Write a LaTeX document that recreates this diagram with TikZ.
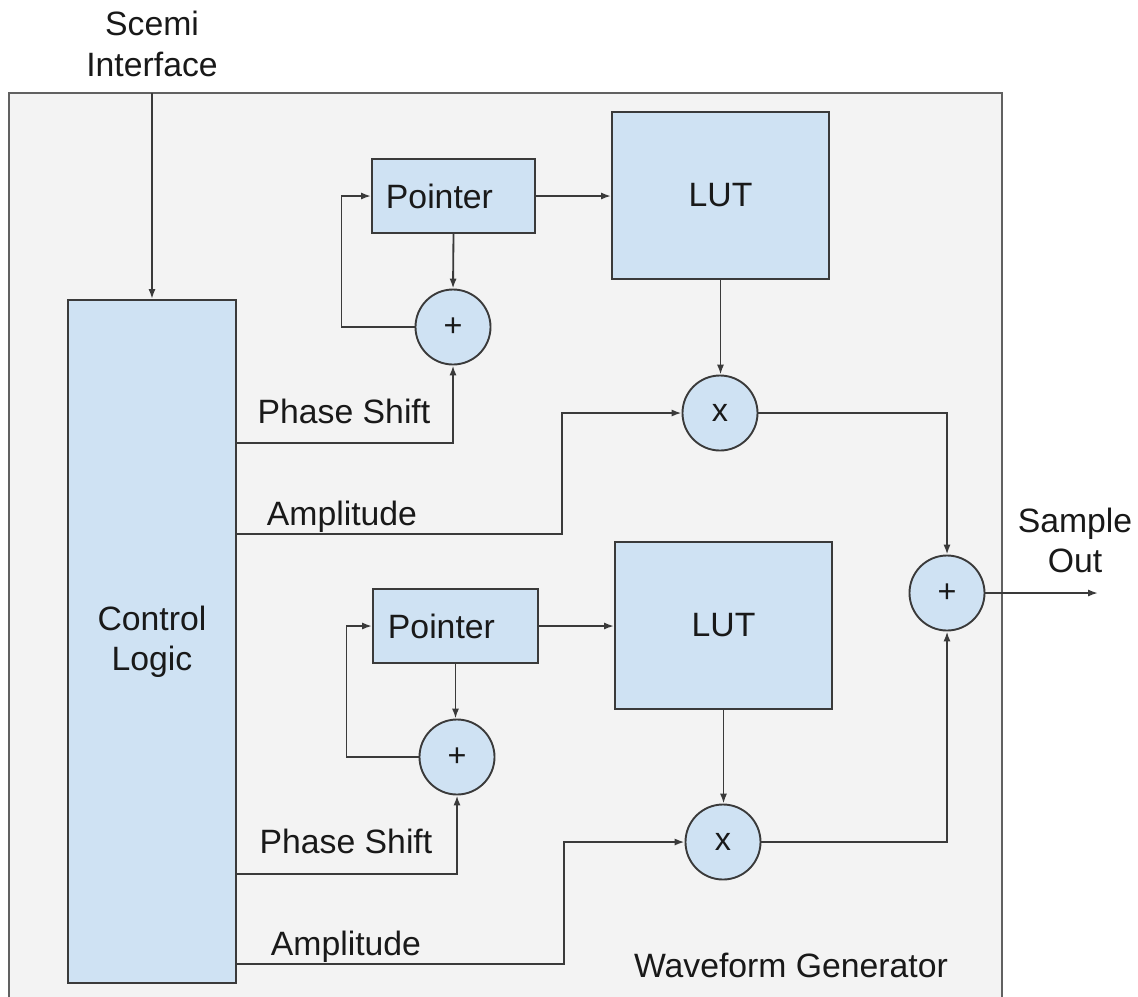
\documentclass[tikz,border=0pt]{standalone}
\usepackage{fontspec}
\setmainfont{Liberation Sans}
\usetikzlibrary{arrows.meta}
\definecolor{boxblue}{HTML}{CFE2F3}
\definecolor{outerbg}{HTML}{F3F3F3}
\definecolor{ink}{HTML}{3A3A3A}
\tikzset{
  blk/.style={draw=ink, fill=boxblue, line width=1.35pt, inner sep=0pt, font=\fontsize{24}{28.5}\selectfont, text=black!90},
  op/.style={circle, draw=ink, fill=boxblue, line width=1.35pt, inner sep=0pt, minimum size=75*0.7113pt, font=\fontsize{23}{28}\selectfont, text=black!90},
  arr/.style={draw=ink, line width=1.3pt, -{Latex[length=7pt,width=5pt]}},
  lbl/.style={font=\fontsize{24}{28.5}\selectfont, text=black!90, inner sep=0pt, anchor=base, align=center}
}
\begin{document}
\begin{tikzpicture}[x=0.025cm, y=-0.025cm]
\useasboundingbox (0,0) rectangle (1138,996);
\fill[white] (0,0) rectangle (1138,996);
\begin{scope}
\clip (0,0) rectangle (1138,996);
\draw[draw=ink!80, fill=outerbg, line width=1.5pt] (9,93) rectangle (1002,1010);
\end{scope}

% nodes
\node[blk, minimum width=168*0.7113pt, minimum height=683*0.7113pt, align=center] (ctrl) at (152,641.5) {Control\\Logic};
\node[blk, minimum width=163*0.7113pt, minimum height=74*0.7113pt] (ptr1) at (453.5,196) {\hspace*{-20pt}Pointer};
\node[blk, minimum width=217*0.7113pt, minimum height=167*0.7113pt] (lut1) at (720.5,195.5) {LUT};
\node[op] (add1) at (453,327) {+};
\node[op] (mul1) at (720,413) {x};
\node[blk, minimum width=165*0.7113pt, minimum height=74*0.7113pt] (ptr2) at (455.5,626) {\hspace*{-20pt}Pointer};
\node[blk, minimum width=217*0.7113pt, minimum height=167*0.7113pt] (lut2) at (723.5,625.5) {LUT};
\node[op] (add2) at (457,757) {+};
\node[op] (mul2) at (723,842) {x};
\node[op] (addo) at (947,593) {+};

% labels
\node[lbl] (scemi) at (152,35) {Scemi};
\node[lbl] (iface) at (152,76) {Interface};
\node[lbl] (samp) at (1075,532) {Sample};
\node[lbl] (out) at (1075,572) {Out};
\node[lbl] (ps1l) at (344,423) {Phase Shift};
\node[lbl] (am1l) at (342,525) {Amplitude};
\node[lbl] (ps2l) at (346,853) {Phase Shift};
\node[lbl] (am2l) at (346,955) {Amplitude};
\node[lbl] (wfg) at (791,977) {Waveform Generator};

% coordinates
\coordinate (sc) at (152,93);
\coordinate (ps1) at (236,443);
\coordinate (am1) at (236,534);
\coordinate (am1k) at (562,534);
\coordinate (ps2) at (236,874);
\coordinate (am2) at (236,964);
\coordinate (am2k) at (564,964);
\coordinate (so) at (1098,593);

% connectors
\draw[arr] (sc) -- (ctrl.north);
\draw[arr] (ptr1.east) -- (ptr1.east -| lut1.west);
\draw[arr] (ptr1.south) -- (add1.north);
\draw[arr] (add1.west) -- ++(-73,0) |- (ptr1.west);
\draw[arr] (ps1) -| (add1.south);
\draw[arr] (am1) -- (am1k) |- (mul1.west);
\draw[arr] (lut1.south) -- (lut1.south |- mul1.north);
\draw[arr] (mul1.east) -| (addo.north);

\draw[arr] (ptr2.east) -- (ptr2.east -| lut2.west);
\draw[arr] (ptr2.south) -- (ptr2.south |- add2.north);
\draw[arr] (add2.west) -- ++(-72,0) |- (ptr2.west);
\draw[arr] (ps2) -| (add2.south);
\draw[arr] (am2) -- (am2k) |- (mul2.west);
\draw[arr] (lut2.south) -- (lut2.south |- mul2.north);
\draw[arr] (mul2.east) -| (addo.south);

\draw[arr] (addo.east) -- (so);
\end{tikzpicture}
\end{document}
